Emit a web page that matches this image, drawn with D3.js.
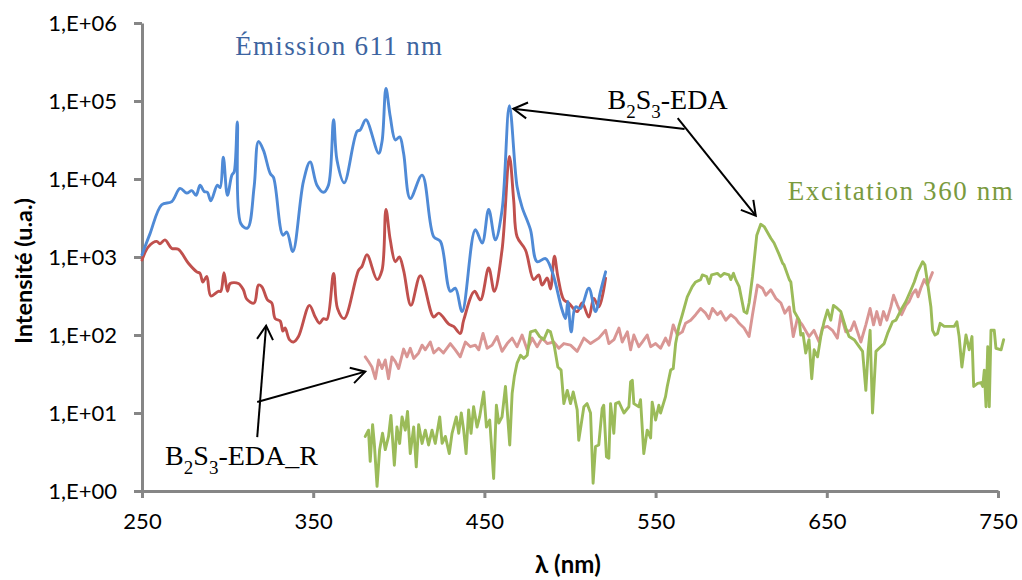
<!DOCTYPE html>
<html><head><meta charset="utf-8">
<script src="https://cdn.jsdelivr.net/npm/d3@7"></script>
<style>body{margin:0;background:#fff}</style>
</head><body><svg id="c" width="1022" height="580"></svg>
<script>
// ---------- data (wavelength nm, log10 intensity) ----------
const xTicks = [250, 350, 450, 550, 650, 750];
const yTicks = [1, 10, 100, 1000, 10000, 100000, 1000000];
const yTickLabels = ["1,E+00","1,E+01","1,E+02","1,E+03","1,E+04","1,E+05","1,E+06"];

// B2S3-EDA, emission (exc. 611 nm label)
const emissionEDA = [[250,3.03],[254.7,3.30],[261.5,3.67],[267.4,3.71],[272.2,3.88],[276.1,3.82],[279.1,3.85],[281.6,3.79],[283.9,3.92],[286.3,3.84],[288.2,3.83],[290.2,3.72],[294.0,3.92],[295.6,3.89],[297.5,4.28],[299.9,3.79],[302.5,4.05],[303.8,4.09],[305.7,4.73],[307.7,3.43],[311.6,3.37],[315.5,3.90],[318.0,4.48],[320.9,4.37],[324.9,4.07],[326.8,4.02],[332.3,3.28],[334.6,3.32],[338.1,3.07],[344.3,3.97],[348.2,4.22],[352.2,3.92],[356.0,3.83],[358.9,3.92],[361.9,4.76],[363.9,4.24],[368.1,3.95],[375.6,4.61],[377.5,4.63],[380.8,4.76],[388.2,4.33],[390.2,4.48],[392.5,5.16],[395.0,4.80],[398.0,4.50],[400.5,4.54],[402.8,4.33],[406.7,3.75],[413.6,4.05],[420.4,3.26],[424.3,3.20],[430.1,2.56],[433.0,2.60],[437.0,2.30],[444.7,3.35],[448.7,3.18],[452.5,3.61],[456.4,3.22],[460.3,3.60],[464.6,4.94],[469.1,3.90],[472.0,3.64],[476.9,3.35],[480.8,2.94],[485.7,2.98],[489.6,2.81],[495.4,2.32],[497.4,2.21],[498.7,2.43],[500.7,2.04],[503.2,2.36],[506.1,2.34],[511.0,2.60],[514.9,2.30],[517.8,2.56],[520.8,2.81]];

// B2S3-EDA_R, emission
const emissionEDAR = [[250,2.96],[253.7,3.13],[258.6,3.20],[260.5,3.17],[263.4,3.22],[267.4,3.11],[271.2,3.10],[277.1,2.92],[282.0,2.81],[283.9,2.79],[285.5,2.68],[287.8,2.75],[290.2,2.50],[294.6,2.56],[296.0,2.56],[297.9,2.80],[299.9,2.56],[301.5,2.66],[306.3,2.66],[309.2,2.58],[311.2,2.46],[315.5,2.41],[318.0,2.64],[320.0,2.62],[323.3,2.45],[325.8,2.41],[327.8,2.21],[330.7,2.18],[332.3,2.05],[333.6,2.09],[336.1,1.94],[338.5,1.91],[341.4,1.98],[347.8,2.38],[351.2,2.23],[353.7,2.15],[356.0,2.21],[358.0,2.20],[361.9,2.79],[364.2,2.34],[368.1,2.21],[376.5,2.83],[378.5,2.88],[381.4,3.03],[387.3,2.71],[390.2,2.83],[392.5,3.61],[395.0,3.22],[398.0,2.94],[400.3,3.00],[402.8,2.83],[407.1,2.38],[412.6,2.76],[420.4,2.23],[423.3,2.28],[429.2,2.14],[432.0,2.11],[435.9,2.02],[437.9,2.19],[444.2,2.56],[447.7,2.45],[452.5,2.86],[455.8,2.56],[460.3,3.09],[464.6,4.29],[467.1,3.73],[469.1,3.26],[474.0,3.09],[478.8,2.71],[481.7,2.77],[483.7,2.64],[486.7,2.73],[488.6,2.59],[490.9,3.01],[492.9,2.75],[496.4,2.45],[499.3,2.41],[504.2,2.30],[507.1,2.41],[511.0,2.23],[513.9,2.47],[516.8,2.36],[520.8,2.73]];

// B2S3-EDA_R, excitation
const excitationEDAR = [[380.4,1.72],[382.3,1.66],[384.3,1.59],[386.3,1.44],[388.2,1.68],[390.2,1.57],[392.1,1.68],[394.0,1.44],[396.0,1.72],[398.0,1.66],[399.9,1.57],[402.8,1.82],[404.8,1.72],[406.7,1.83],[408.7,1.70],[411.6,1.77],[413.6,1.87],[415.5,1.81],[418.4,1.91],[420.4,1.77],[423.3,1.83],[426.1,1.77],[430.1,1.89],[433.0,1.81],[435.9,1.72],[438.9,1.91],[441.8,1.85],[444.7,1.87],[446.7,1.81],[449.2,2.02],[451.6,1.83],[454.5,1.87],[457.4,1.98],[460.3,1.79],[463.3,1.89],[466.2,1.96],[469.1,1.85],[472.0,2.00],[475.0,1.81],[477.9,1.96],[480.8,1.85],[483.7,1.96],[486.7,1.89],[490.5,1.91],[493.5,1.83],[496.4,1.89],[500.3,1.87],[504.2,1.79],[508.1,1.96],[512.0,1.89],[516.8,1.96],[520.8,2.06],[522.7,1.89],[525.7,1.94],[528.6,2.09],[530.5,1.91],[533.5,2.04],[535.4,1.81],[537.3,2.00],[540.2,1.85],[542.2,1.91],[545.1,2.00],[547.1,1.85],[550.0,1.89],[552.9,1.83],[555.8,1.96],[557.8,1.87],[560.3,2.13],[562.7,2.00],[565.6,2.04],[567.5,2.15],[570.5,2.19],[573.4,2.26],[576.3,2.34],[579.2,2.28],[581.2,2.21],[583.2,2.34],[586.1,2.26],[588.0,2.30],[591.0,2.19],[593.9,2.26],[596.8,2.21],[598.8,2.15],[601.7,2.09],[604.6,1.98],[606.6,2.26],[609.5,2.64],[612.4,2.60],[614.4,2.51],[617.3,2.58],[620.2,2.47],[623.2,2.41],[625.5,2.28],[628.1,2.36],[630.4,1.98],[632.8,2.21],[635.7,2.13],[639.6,1.98],[642.5,2.06],[645.5,1.91],[647.4,2.09],[650.4,2.11],[653.3,2.06],[656.2,1.96],[658.2,2.26],[661.1,2.04],[664.0,2.06],[666.0,2.17],[669.9,1.91],[672.8,2.13],[675.3,2.34],[677.3,2.13],[679.2,2.30],[681.2,2.13],[683.1,2.30],[685.1,2.19],[687.4,2.36],[689.0,2.51],[691.3,2.38],[693.7,2.26],[696.2,2.38],[698.1,2.43],[700.1,2.53],[702.0,2.58],[703.3,2.49],[704.9,2.60],[706.9,2.71],[708.8,2.64],[711.7,2.80]];

// B2S3-EDA, excitation (em. 360 nm label)
const excitationEDA = [[380.4,0.70],[382.3,0.78],[383.3,0.38],[384.7,0.85],[385.7,0.61],[387.3,0.06],[388.8,0.53],[390.5,0.74],[392.1,0.53],[394.0,0.70],[395.4,0.97],[397.4,0.33],[398.9,0.82],[400.5,0.61],[401.9,0.95],[403.8,0.78],[405.1,1.02],[406.7,0.48],[408.7,0.82],[410.2,0.31],[411.6,0.85],[413.6,0.61],[415.5,0.78],[417.4,0.59],[419.4,0.78],[421.3,0.61],[423.9,0.95],[425.3,0.61],[427.2,0.70],[429.5,0.48],[431.1,0.74],[433.6,0.95],[435.0,0.74],[436.5,1.00],[437.9,0.78],[439.3,0.48],[440.8,1.04],[442.2,0.74],[443.7,1.08],[445.7,0.82],[447.2,0.95],[449.6,1.27],[451.2,0.82],[453.1,0.91],[455.4,0.16],[457.0,1.10],[458.4,0.87],[460.3,0.95],[462.3,1.34],[464.8,0.59],[466.2,1.25],[467.5,1.47],[469.1,1.64],[471.1,1.74],[473.0,1.70],[475.0,1.74],[476.9,2.04],[479.8,2.06],[482.3,1.98],[484.7,1.94],[487.0,2.06],[488.6,2.04],[490.9,1.85],[492.9,1.59],[494.8,1.55],[496.4,1.12],[498.4,1.29],[500.3,1.12],[501.9,1.27],[504.2,1.04],[505.1,0.65],[506.5,0.85],[508.1,1.08],[510.0,1.12],[512.0,1.00],[513.5,0.10],[514.9,0.57],[516.8,0.59],[518.8,1.06],[519.7,1.10],[521.3,0.44],[522.7,0.42],[523.7,1.12],[525.6,0.74],[526.6,1.12],[528.6,1.14],[531.5,1.00],[534.4,1.08],[535.4,1.40],[536.4,1.42],[537.3,1.12],[540.2,1.08],[541.2,1.17],[543.1,0.48],[545.1,0.78],[547.1,0.68],[548.0,1.14],[550.0,0.91],[551.9,1.10],[552.9,1.00],[555.8,1.21],[556.8,1.34],[558.8,1.55],[560.3,1.57],[561.7,1.89],[563.6,2.11],[565.6,2.26],[568.5,2.49],[571.4,2.62],[573.4,2.68],[576.3,2.71],[577.3,2.77],[579.8,2.75],[581.2,2.66],[582.7,2.77],[586.1,2.79],[588.0,2.75],[590.0,2.79],[592.9,2.77],[593.9,2.71],[595.5,2.79],[596.8,2.71],[598.8,2.62],[601.7,2.30],[603.3,2.28],[604.6,2.41],[606.6,2.75],[609.1,3.28],[611.4,3.42],[613.4,3.39],[617.3,3.24],[619.2,3.18],[622.2,3.03],[624.2,2.92],[625.0,2.90],[628.1,2.71],[629.0,2.68],[631.0,2.30],[633.9,2.19],[634.8,2.00],[636.1,2.02],[637.7,1.77],[639.6,1.94],[641.2,1.44],[642.6,1.81],[644.6,1.72],[646.5,1.98],[648.4,2.17],[650.4,2.32],[652.3,2.19],[653.9,2.38],[656.2,2.34],[658.2,2.30],[661.1,2.09],[663.0,1.98],[666.0,1.94],[668.9,1.85],[670.9,1.79],[672.8,1.29],[674.2,1.81],[675.3,2.06],[676.7,1.00],[678.7,1.79],[680.6,1.83],[683.5,1.89],[685.5,2.02],[688.4,2.17],[690.4,2.19],[693.3,2.32],[696.2,2.43],[699.2,2.58],[701.1,2.68],[703.1,2.81],[706.0,2.94],[707.3,2.90],[708.9,2.66],[710.8,2.36],[711.8,2.06],[713.2,2.00],[714.7,2.02],[716.2,2.15],[718.6,2.11],[724.4,2.11],[726.0,2.17],[727.3,1.98],[728.9,1.59],[731.3,2.00],[733.2,1.81],[734.8,1.98],[735.8,1.34],[738.1,1.38],[740.1,1.39],[741.1,1.34],[742.0,1.55],[743.0,1.08],[744.0,1.85],[744.9,1.08],[745.9,2.06],[747.8,2.06],[748.8,1.83],[751.8,1.81],[753.3,1.94]];

// annotations: [nm, log10 I]
const labelEmission = {text: "Émission 611 nm", at: [304.4, 5.59]};
const labelExcitation = {text: "Excitation 360 nm", at: [627.2, 3.73]};
const labelEDA = {at: [521.9, 4.90]};
const labelEDAR = {at: [263.5, 0.33]};
const arrowsEDA = [[[566.9, 4.64], [466.9, 4.90]], [[562.9, 4.78], [608.5, 3.53]]];
const arrowsEDAR = [[[317.3, 0.69], [322.5, 2.12]], [[317.3, 1.14], [380.4, 1.53]]];

// ---------- drawing ----------
const svg = d3.select('#c');
const x = d3.scaleLinear().domain([250, 750]).range([142, 998]);
const y = d3.scaleLog().domain([1, 1e6]).range([491, 23]);
const px = p => x(p[0]);
const py = p => y(Math.pow(10, p[1]));
const axisColor = '#868686';
const tickFont = "Lato, 'Open Sans', sans-serif";

// axes
const gy = svg.append('g').attr('transform', `translate(${x(250)},0)`)
  .call(d3.axisLeft(y).tickValues(yTicks).tickFormat((d, i) => yTickLabels[i]).tickSize(8).tickPadding(17).tickSizeOuter(0));
const gx = svg.append('g').attr('transform', `translate(0,${y(1)})`)
  .call(d3.axisBottom(x).tickValues(xTicks).tickFormat(d3.format('d')).tickSize(7).tickPadding(15).tickSizeOuter(0));
[gx, gy].forEach(g => {
  g.select('.domain').attr('stroke', axisColor).attr('stroke-width', 3);
  g.selectAll('.tick line').attr('stroke', axisColor).attr('stroke-width', 3);
  g.selectAll('.tick text').attr('fill', '#000').style('font-family', tickFont).style('font-size', '22px');
});

svg.append('text').attr('x', 568).attr('y', 573).attr('text-anchor', 'middle')
  .style('font-family', tickFont).style('font-weight', 'bold').style('font-size', '24px')
  .text('λ (nm)');
svg.append('text').attr('transform', 'translate(32,271) rotate(-90)').attr('text-anchor', 'middle')
  .attr('textLength', 146).attr('lengthAdjust', 'spacingAndGlyphs')
  .style('font-family', tickFont).style('font-weight', 'bold').style('font-size', '23px')
  .text('Intensité (u.a.)');

// series
const smooth = d3.line().x(px).y(py).curve(d3.curveCatmullRom.alpha(0.5));
const straight = d3.line().x(px).y(py);
const series = [
  {data: excitationEDAR, color: '#D99694', gen: straight},
  {data: excitationEDA, color: '#9BBB59', gen: straight},
  {data: emissionEDAR, color: '#C0504D', gen: smooth},
  {data: emissionEDA, color: '#4F8AD6', gen: smooth}
];
series.forEach(s => {
  svg.append('path').attr('d', s.gen(s.data)).attr('fill', 'none')
    .attr('stroke', s.color).attr('stroke-width', 2.9).attr('stroke-linejoin', 'round').attr('stroke-linecap', 'round');
});

// annotations
const serif = "'Liberation Serif', 'DejaVu Serif', serif";
svg.append('text').attr('x', px(labelEmission.at)).attr('y', py(labelEmission.at))
  .attr('textLength', 207).attr('lengthAdjust', 'spacing')
  .style('font-family', serif).style('font-size', '27px').attr('fill', '#3D64A0').text(labelEmission.text);
svg.append('text').attr('x', px(labelExcitation.at)).attr('y', py(labelExcitation.at))
  .attr('textLength', 225).attr('lengthAdjust', 'spacing')
  .style('font-family', serif).style('font-size', '27px').attr('fill', '#7A9A3E').text(labelExcitation.text);

function chem(at, suffix) {
  const t = svg.append('text').attr('x', px(at)).attr('y', py(at))
    .style('font-family', serif).style('font-size', '28px').attr('fill', '#000');
  t.append('tspan').text('B');
  t.append('tspan').attr('dy', 9).style('font-size', '19px').text('2');
  t.append('tspan').attr('dy', -9).text('S');
  t.append('tspan').attr('dy', 9).style('font-size', '19px').text('3');
  t.append('tspan').attr('dy', -9).text('-EDA' + suffix);
}
chem(labelEDA.at, '');
chem(labelEDAR.at, '_R');

function arrow(a, b) {
  const x1 = px(a), y1 = py(a), x2 = px(b), y2 = py(b);
  const ang = Math.atan2(y1 - y2, x1 - x2), L = 16, sp = Math.PI / 6;
  svg.append('line').attr('x1', x1).attr('y1', y1).attr('x2', x2).attr('y2', y2)
    .attr('stroke', '#000').attr('stroke-width', 2);
  svg.append('path')
    .attr('d', `M${x2 + L * Math.cos(ang + sp)},${y2 + L * Math.sin(ang + sp)}L${x2},${y2}L${x2 + L * Math.cos(ang - sp)},${y2 + L * Math.sin(ang - sp)}`)
    .attr('fill', 'none').attr('stroke', '#000').attr('stroke-width', 2);
}
arrowsEDA.forEach(a => arrow(a[0], a[1]));
arrowsEDAR.forEach(a => arrow(a[0], a[1]));
</script>
</body></html>
